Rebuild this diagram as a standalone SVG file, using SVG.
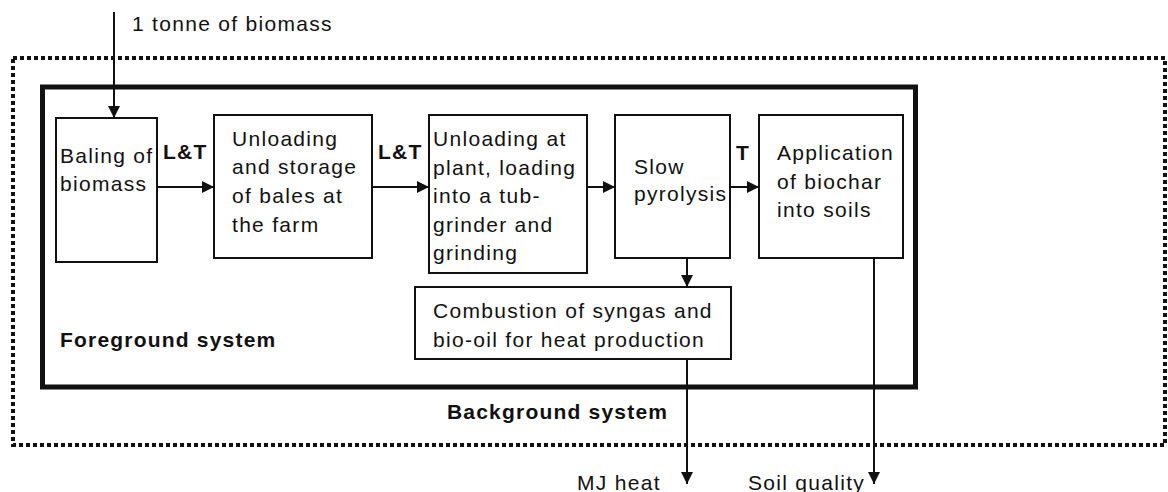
<svg xmlns="http://www.w3.org/2000/svg" width="1168" height="492" viewBox="0 0 1168 492">
<style>
.t{font-family:"Liberation Sans",Arial,sans-serif;font-size:21px;letter-spacing:1.3px;fill:#111}
.b{font-family:"Liberation Sans",Arial,sans-serif;font-size:21px;font-weight:bold;letter-spacing:1.2px;fill:#111}
.box{fill:#fff;stroke:#111;stroke-width:2}
.ln{stroke:#111;stroke-width:2;fill:none}
</style>
<defs>
<marker id="ah" markerWidth="12" markerHeight="12" refX="12" refY="6" orient="auto" markerUnits="userSpaceOnUse">
<path d="M0,0 L12,6 L0,12 Z" fill="#111"/>
</marker>
</defs>
<rect x="0" y="0" width="1168" height="492" fill="#fff"/>
<g id="background-system">
<rect x="13" y="58" width="1152" height="387" fill="none" stroke="#111" stroke-width="4" stroke-dasharray="4 3"/>
<text class="b" x="447" y="419">Background system</text>
</g>
<g id="foreground-system">
<rect x="42.5" y="87" width="873" height="300" fill="none" stroke="#111" stroke-width="5"/>
<text class="b" x="60" y="347">Foreground system</text>
</g>
<g id="baling">
<rect class="box" x="56" y="118" width="101" height="144"/>
<text class="t" x="60" y="163">Baling of</text>
<text class="t" x="60" y="191">biomass</text>
</g>
<g id="unloading-storage">
<rect class="box" x="214" y="115" width="158" height="143"/>
<text class="t" x="232" y="146">Unloading</text>
<text class="t" x="232" y="174">and storage</text>
<text class="t" x="232" y="203">of bales at</text>
<text class="t" x="232" y="232">the farm</text>
</g>
<g id="unloading-plant">
<rect class="box" x="429" y="115" width="158" height="158"/>
<text class="t" x="433" y="146">Unloading at</text>
<text class="t" x="433" y="175">plant, loading</text>
<text class="t" x="433" y="203">into a tub-</text>
<text class="t" x="433" y="232">grinder and</text>
<text class="t" x="433" y="260">grinding</text>
</g>
<g id="pyrolysis">
<rect class="box" x="615" y="115" width="115" height="143"/>
<text class="t" x="634" y="174">Slow</text>
<text class="t" x="634" y="201">pyrolysis</text>
</g>
<g id="application">
<rect class="box" x="759" y="115" width="144" height="143"/>
<text class="t" x="777" y="160">Application</text>
<text class="t" x="777" y="189">of biochar</text>
<text class="t" x="777" y="217">into soils</text>
</g>
<g id="combustion">
<rect class="box" x="415" y="287" width="316" height="72"/>
<text class="t" x="433" y="318">Combustion of syngas and</text>
<text class="t" x="433" y="347">bio-oil for heat production</text>
</g>
<g id="connectors">
<line class="ln" x1="114" y1="12" x2="114" y2="118" marker-end="url(#ah)"/>
<line class="ln" x1="157" y1="187" x2="214" y2="187" marker-end="url(#ah)"/>
<line class="ln" x1="372" y1="187" x2="429" y2="187" marker-end="url(#ah)"/>
<line class="ln" x1="587" y1="187" x2="615" y2="187" marker-end="url(#ah)"/>
<line class="ln" x1="730" y1="187" x2="759" y2="187" marker-end="url(#ah)"/>
<line class="ln" x1="687" y1="258" x2="687" y2="287" marker-end="url(#ah)"/>
<line class="ln" x1="687" y1="359" x2="687" y2="484" marker-end="url(#ah)"/>
<line class="ln" x1="874" y1="258" x2="874" y2="484" marker-end="url(#ah)"/>
<text class="t" x="132" y="31">1 tonne of biomass</text>
<text class="b" x="163" y="159">L&amp;T</text>
<text class="b" x="378" y="159">L&amp;T</text>
<text class="b" x="736" y="160">T</text>
<text class="t" x="577" y="490">MJ heat</text>
<text class="t" x="748" y="490">Soil quality</text>
</g>
</svg>
